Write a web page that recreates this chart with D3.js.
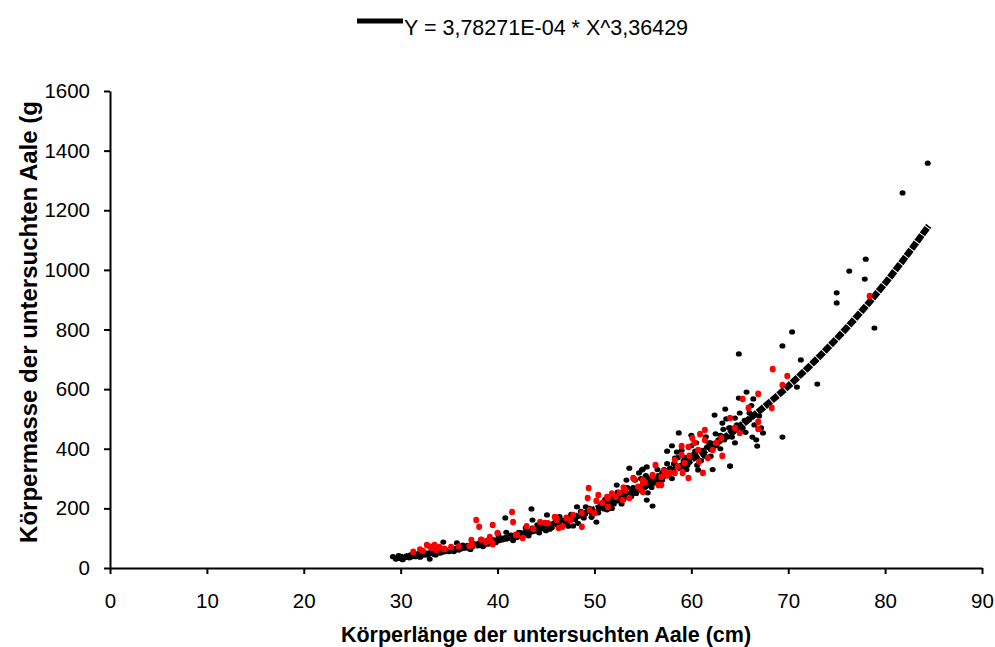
<!DOCTYPE html>
<html>
<head>
<meta charset="utf-8">
<script src="https://cdn.jsdelivr.net/npm/d3@7"></script>
<style>
  body { margin: 0; background: #fff; }
  svg { display: block; font-family: "Liberation Sans", Arial, sans-serif; }
</style>
</head>
<body>
<svg id="chart" width="995" height="647"></svg>
<script>
// Körperlänge (cm) / Körpermasse (g) - Messwerte, schwarz
var blackPts = [
  [29.2,38],[29.5,30],[29.8,42],[30.0,33],[30.3,36],[30.6,40],[30.9,34],[31.2,45],[31.5,38],[31.8,48],
  [32.1,40],[32.4,52],[32.7,44],[33.0,30],[33.0,50],[33.4,47],[33.8,55],[34.1,50],[34.4,87],[34.6,60],
  [35.0,55],[35.3,64],[35.8,84],[36.0,60],[36.4,77],[36.7,70],[37.0,66],[37.5,82],[38.0,75],[38.2,87],
  [38.6,90],[39.0,80],[39.5,95],[40.0,117],[40.3,100],[40.8,168],[41.0,98],[41.4,110],[41.8,104],[42.2,120],
  [42.6,112],[43.0,121],[43.5,198],[43.6,161],[43.6,134],[44.0,125],[44.5,135],[44.9,142],[45.1,178],[45.4,130],
  [45.8,150],[46.2,146],[46.6,160],[47.0,155],[47.4,170],[47.8,141],[48.2,205],[48.5,175],[48.9,168],[49.3,190],
  [49.8,180],[50.2,154],[50.5,200],[50.9,210],[51.3,195],[51.7,225],[52.0,215],[52.3,278],[52.6,240],[53.0,230],
  [53.3,295],[53.6,335],[53.9,260],[54.3,250],[54.6,319],[55.0,332],[55.2,270],[55.5,252],[55.4,228],[55.8,300],
  [56.0,208],[56.2,285],[56.6,310],[57.0,320],[57.5,392],[57.8,335],[58.2,350],[58.7,453],[59.0,340],[59.4,370],
  [59.8,355],[60.2,380],[60.6,345],[61.0,395],[61.4,375],[61.8,420],[62.2,400],[62.4,513],[62.8,430],[63.2,486],
  [63.5,533],[63.8,440],[64.0,342],[64.5,503],[64.9,570],[64.9,718],[65.3,470],[65.7,590],[66.0,500],[66.3,439],
  [66.4,567],[66.8,409],[67.4,453],[69.4,439],[69.4,745],[70.4,792],[70.9,607],[71.3,698],[73.0,617],[75.0,923],
  [75.0,889],[76.3,996],[77.9,969],[78.0,1036],[78.9,805],[81.8,1258],[84.4,1358],
  [64.2,439],[58.5,389],[60.3,372],[58.3,369],[60.7,329],[55.4,339],[54.9,329],[55.4,302],[56.7,295],[64.0,342],
  [30.2,28],[31.0,44],[32.0,36],[32.8,48],[33.6,44],[34.2,58],[35.5,55],[36.2,70],[37.2,62],[37.8,80],
  [38.5,72],[39.2,90],[39.8,85],[40.5,95],[41.2,105],[41.6,92],[42.4,118],[43.2,108],[43.8,128],[44.3,118],
  [44.7,140],[45.2,150],[45.6,135],[46.0,158],[46.5,140],[47.2,150],[47.6,180],[48.0,162],[48.6,190],[49.0,180],
  [49.5,200],[50.0,188],[50.7,215],[51.0,198],[51.5,210],[52.0,240],[52.5,225],[53.0,255],[53.5,248],[54.0,270],
  [54.5,262],[55.0,280],[55.6,290],[56.3,300],[56.8,290],[57.2,330],[57.8,320],[58.4,345],[59.2,360],[59.6,345],
  [60.0,370],[60.4,392],[61.2,385],[61.6,405],[62.0,420],[62.6,410],[63.0,445],[63.4,430],[63.9,470],[64.3,455],
  [64.7,480],[65.0,460],[65.5,495],[66.0,520],[66.5,480],[67.0,510],
  [36.9,76],[38.3,96],[40.1,108],[40.9,120],[42.0,102],[42.9,135],[44.1,145],[45.0,125],[46.4,172],[47.3,140],
  [48.3,150],[49.1,205],[49.7,170],[50.4,185],[51.1,230],[51.8,200],[52.4,255],[52.8,215],[53.4,270],[53.8,240],
  [54.2,295],[54.8,300],[55.3,310],[55.9,270],[56.5,330],[57.0,295],[57.5,350],[58.0,300],[58.6,370],[59.0,395],
  [59.5,330],[60.0,410],[60.5,420],[61.0,360],[61.5,440],[62.0,375],[62.5,450],[63.0,400],[63.6,500],[64.0,470],
  [64.5,420],[65.0,520],[65.6,455],[66.2,545],[66.7,430],[67.2,470],[60.0,445],[62.2,330],[63.3,465],[58.0,410]
];

// Messwerte, rot
var redPts = [
  [31.3,54],[32.3,57],[32.7,77],[33.2,67],[33.5,77],[33.7,60],[34.0,70],[35.2,70],[37.1,74],[37.3,94],
  [37.4,77],[37.8,161],[38.1,138],[38.8,87],[38.9,91],[39.2,104],[39.4,87],[39.5,144],[39.5,80],[40.0,117],
  [41.5,188],[41.6,154],[41.9,111],[42.0,111],[42.6,101],[43.7,131],[44.4,154],[44.9,151],[45.9,171],[46.1,161],
  [46.1,168],[46.3,134],[46.7,138],[47.1,168],[47.8,178],[48.7,184],[48.7,138],[49.3,235],[49.4,268],[49.5,195],
  [50.0,184],[50.4,245],[50.8,218],[51.3,238],[51.4,235],[51.4,205],[52.2,238],[52.6,252],[52.9,228],[53.2,262],
  [53.6,235],[54.0,302],[54.1,298],[54.5,272],[55.0,295],[55.0,255],[55.2,288],[56.0,312],[56.3,345],[56.6,278],
  [56.9,305],[57.5,310],[58.3,362],[59.0,409],
  [60.1,436],[60.9,449],[61.4,463],[61.4,429],[63.1,436],[65.0,453],[59.7,406],[60.7,396],[59.0,379],[61.7,369],
  [62.2,396],[63.2,376],[59.8,376],[60.8,356],[59.3,352],[61.2,319],[58.3,319],[57.8,319],[56.0,309],[59.7,302],
  [59.1,319],[56.9,278],[55.0,285],[64.0,503],[65.3,567],[65.9,537],[66.9,584],[66.9,490],[66.9,466],[68.3,537],
  [68.4,667],[69.9,644],[69.4,614],[78.4,912],
  [32.0,62],[33.0,72],[34.5,64],[36.0,72],[38.3,95],[43.0,140],[45.2,150],[47.5,160],[50.2,225],[51.8,250],
  [53.0,270],[54.7,268],[57.2,325],[58.6,340],[60.3,420],[62.6,420],[64.5,470]
];

var fitX = [29.5,30,31,32,33,34,35,36,37,38,39,40,42,44,46,48,50,52,54,56,58,60,62,64,66,68,70,72,74,76,78,80,82,84.5];
var fitY = [33.3,35.3,39.4,43.8,48.6,53.7,59.2,65.1,71.4,78.1,85.3,92.8,109.4,127.9,148.5,171.4,196.6,224.3,254.7,287.9,
            323.8,362.9,405.5,451.2,500.4,553.4,609.8,670.5,735.3,804.1,877.5,955.4,1038.5,1148];

var xTicks = [0,10,20,30,40,50,60,70,80,90];
var yTicks = [0,200,400,600,800,1000,1200,1400,1600];
var legendLabel = "Y = 3,78271E-04 * X^3,36429";
var xTitle = "Körperlänge der untersuchten Aale (cm)";
var yTitle = "Körpermasse der untersuchten Aale (g";

var svg = d3.select("#chart"),
	plotLeft = 110, plotRight = 982, plotTop = 91, plotBottom = 568;

var x = d3.scaleLinear().domain([0, 90]).range([plotLeft, plotRight]);
var y = d3.scaleLinear().domain([0, 1600]).range([plotBottom, plotTop]);

// axes
var xAxis = svg.append("g")
	.attr("transform", "translate(0," + plotBottom + ")")
	.call(d3.axisBottom(x).tickValues(xTicks).tickSize(6).tickSizeOuter(0).tickPadding(19));
var yAxis = svg.append("g")
	.attr("transform", "translate(" + plotLeft + ",0)")
	.call(d3.axisLeft(y).tickValues(yTicks).tickFormat(d3.format("d")).tickSize(6).tickSizeOuter(0).tickPadding(14));

[xAxis, yAxis].forEach(function(g) {
	g.select(".domain").attr("stroke", "#000").attr("stroke-width", 2);
	g.selectAll(".tick line").attr("stroke", "#000").attr("stroke-width", 2);
	g.selectAll(".tick text")
		.attr("fill", "#000")
		.style("font-family", "'Liberation Sans', Arial, sans-serif")
		.style("font-size", "20.5px");
});

// points, black series first
svg.append("g").selectAll("ellipse")
	.data(blackPts)
	.enter().append("ellipse")
	.attr("cx", function(d) { return x(d[0]); })
	.attr("cy", function(d) { return y(d[1]); })
	.attr("rx", 3)
	.attr("ry", 2.6)
	.attr("fill", "#000");

// fit curve
var line = d3.line()
	.x(function(d) { return x(d[0]); })
	.y(function(d) { return y(d[1]); })
	.curve(d3.curveMonotoneX);

svg.append("path")
	.datum(fitX.map(function(v, i) { return [v, fitY[i]]; }))
	.attr("d", line)
	.attr("fill", "none")
	.attr("stroke", "#000")
	.attr("stroke-width", 6.5)
	.attr("stroke-dasharray", "8,1");

// red series on top
svg.append("g").selectAll("ellipse")
	.data(redPts)
	.enter().append("ellipse")
	.attr("cx", function(d) { return x(d[0]); })
	.attr("cy", function(d) { return y(d[1]); })
	.attr("rx", 3)
	.attr("ry", 3.3)
	.attr("fill", "#ff0000");

// legend
svg.append("line")
	.attr("x1", 357).attr("x2", 403)
	.attr("y1", 21).attr("y2", 21)
	.attr("stroke", "#000").attr("stroke-width", 5);
svg.append("text")
	.attr("x", 404).attr("y", 35)
	.style("font-size", "21.5px")
	.text(legendLabel);

// titles
svg.append("text")
	.attr("x", (plotLeft + plotRight) / 2).attr("y", 642)
	.attr("text-anchor", "middle")
	.style("font-size", "21.5px").style("font-weight", "bold")
	.text(xTitle);
svg.append("text")
	.attr("transform", "translate(37,322) rotate(-90)")
	.attr("text-anchor", "middle")
	.style("font-size", "24px").style("font-weight", "bold")
	.text(yTitle);
</script>
</body>
</html>
